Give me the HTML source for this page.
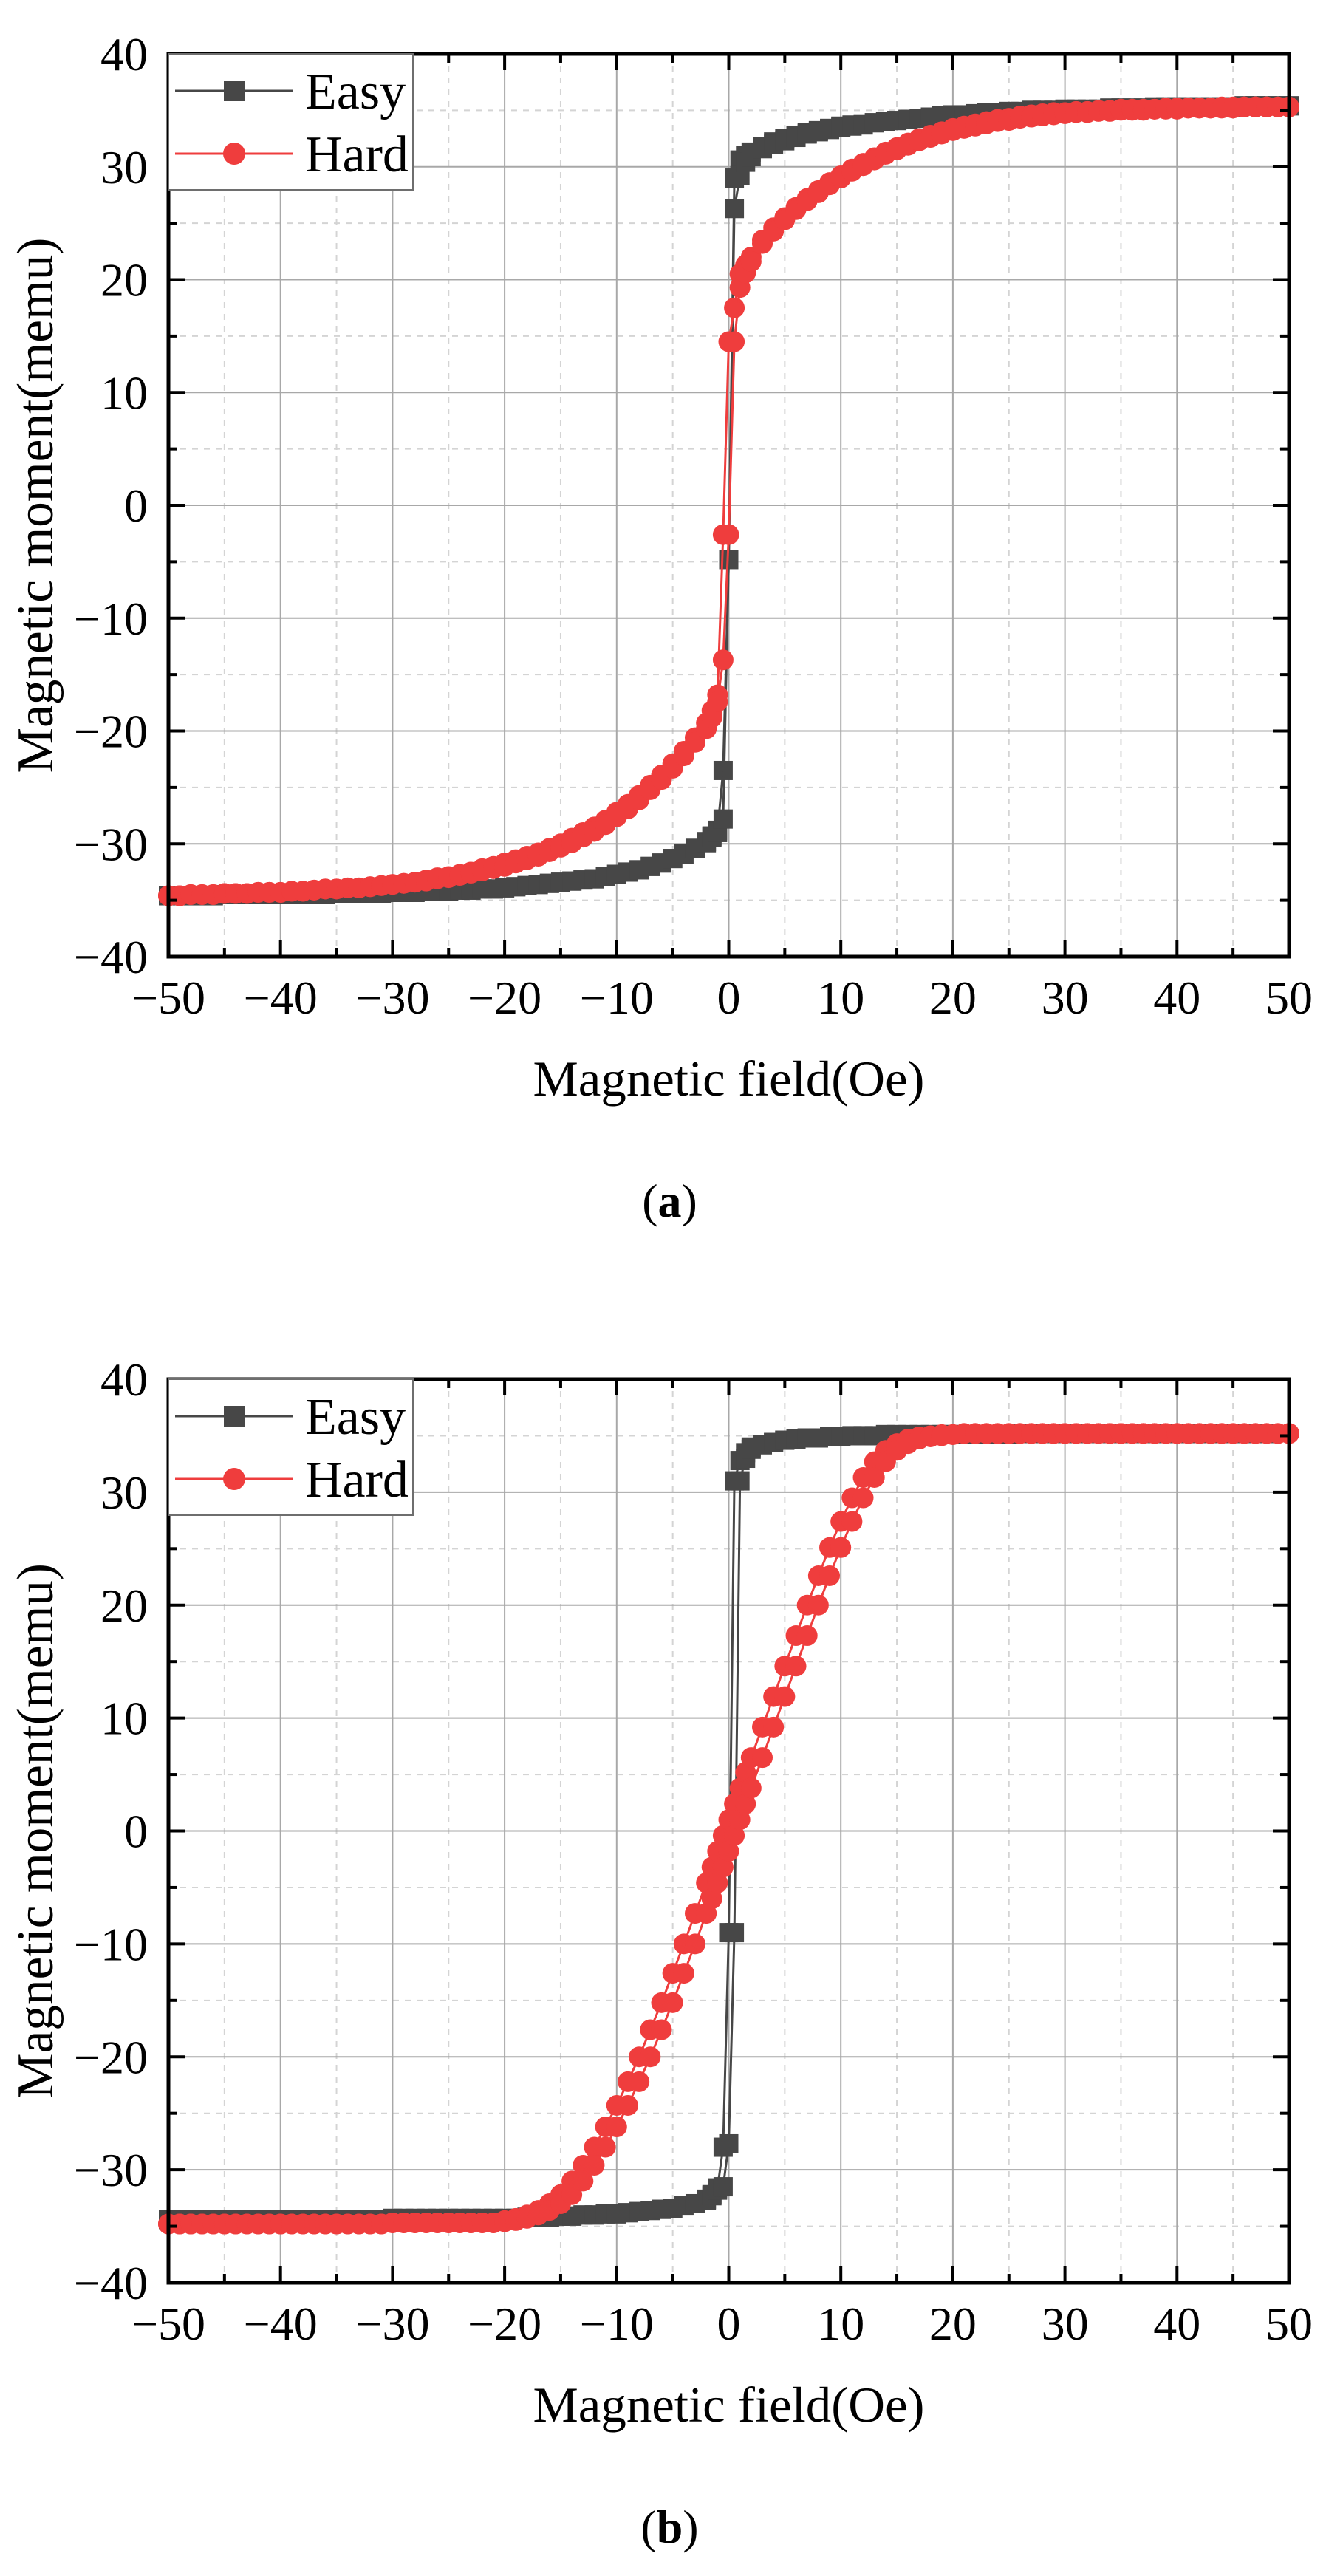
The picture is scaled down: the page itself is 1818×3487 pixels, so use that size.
<!DOCTYPE html>
<html><head><meta charset="utf-8">
<style>
html,body{margin:0;padding:0;background:#fff;}
svg{display:block;}
text{font-family:"Liberation Serif","Times New Roman",serif;fill:#000;}
</style></head>
<body>
<svg id="fig" width="1818" height="3487" viewBox="0 0 1818 3487" xmlns="http://www.w3.org/2000/svg"></svg>
<script>
// shared field values (Oe)
const fieldA = [-50,-49,-48,-47,-46,-45,-44,-43,-42,-41,-40,-39,-38,-37,-36,-35,-34,-33,-32,-31,-30,-29,-28,-27,-26,-25,-24,-23,-22,-21,-20,-19,-18,-17,-16,-15,-14,-13,-12,-11,-10,-9,-8,-7,-6,-5,-4,-3,-2,-1.5,-1,-0.5,0,0.5,1,1.5,2,3,4,5,6,7,8,9,10,11,12,13,14,15,16,17,18,19,20,21,22,23,24,25,26,27,28,29,30,31,32,33,34,35,36,37,38,39,40,41,42,43,44,45,46,47,48,49,50];
const fieldB = fieldA.slice();
const xTicks = [-50,-40,-30,-20,-10,0,10,20,30,40,50];
const yTicks = [-40,-30,-20,-10,0,10,20,30,40];
const xTickLabels = ["−50","−40","−30","−20","−10","0","10","20","30","40","50"];
const yTickLabels = ["−40","−30","−20","−10","0","10","20","30","40"];

// panel (a) easy axis
const easyA_down = [-34.6,-34.6,-34.6,-34.6,-34.6,-34.5,-34.5,-34.5,-34.5,-34.5,-34.5,-34.5,-34.5,-34.5,-34.5,-34.4,-34.4,-34.4,-34.4,-34.4,-34.3,-34.3,-34.3,-34.2,-34.2,-34.2,-34.1,-34.1,-34.0,-34.0,-33.9,-33.8,-33.7,-33.6,-33.5,-33.4,-33.3,-33.2,-33.1,-32.9,-32.7,-32.5,-32.3,-32.0,-31.7,-31.3,-30.9,-30.4,
 -29.8,-29.3,-28.8,-23.5,-4.8,29.0,30.6,31.0,31.3,
 31.8,32.2,32.5,32.8,33.0,33.2,33.4,33.6,33.7,33.8,33.9,34.0,34.1,34.2,34.3,34.4,34.5,34.6,34.6,34.7,34.8,34.8,34.9,34.9,35.0,35.0,35.0,35.1,35.1,35.1,35.1,35.2,35.2,35.2,35.2,35.3,35.3,35.3,35.3,35.3,35.3,35.3,35.3,35.4,35.4,35.4,35.4,35.4];
const easyA_up = [-34.6,-34.6,-34.6,-34.6,-34.6,-34.5,-34.5,-34.5,-34.5,-34.5,-34.5,-34.5,-34.5,-34.5,-34.5,-34.4,-34.4,-34.4,-34.4,-34.4,-34.3,-34.3,-34.3,-34.2,-34.2,-34.2,-34.1,-34.1,-34.0,-34.0,-33.9,-33.8,-33.7,-33.6,-33.5,-33.4,-33.3,-33.2,-33.1,-32.9,-32.7,-32.5,-32.3,-32.0,-31.7,-31.3,-30.9,-30.4,
 -29.9,-29.4,-29.0,-27.8,-4.8,26.3,29.2,30.4,30.9,
 31.6,32.0,32.3,32.6,32.9,33.1,33.3,33.5,33.6,33.7,33.9,34.0,34.1,34.2,34.3,34.4,34.5,34.6,34.6,34.7,34.8,34.8,34.9,34.9,35.0,35.0,35.0,35.1,35.1,35.1,35.1,35.2,35.2,35.2,35.2,35.3,35.3,35.3,35.3,35.3,35.3,35.3,35.3,35.4,35.4,35.4,35.4,35.4];
// panel (a) hard axis
const hardA_down = [-34.6,-34.6,-34.5,-34.5,-34.5,-34.4,-34.4,-34.4,-34.3,-34.3,-34.3,-34.2,-34.2,-34.1,-34.0,-34.0,-33.9,-33.9,-33.8,-33.7,-33.6,-33.5,-33.4,-33.2,-33.0,-32.9,-32.7,-32.5,-32.2,-32.0,-31.7,-31.4,-31.1,-30.8,-30.4,-30.0,-29.5,-29.0,-28.5,-27.9,-27.2,-26.5,-25.7,-24.8,-23.9,-22.9,-21.8,-20.6,
 -19.3,-18.2,-16.8,-2.6,14.5,17.5,20.5,21.3,22.0,
 23.5,24.6,25.5,26.4,27.2,27.9,28.6,29.2,29.8,30.3,30.8,31.3,31.7,32.1,32.5,32.8,33.1,33.4,33.6,33.8,34.0,34.2,34.3,34.5,34.6,34.7,34.8,34.8,34.9,34.9,35.0,35.0,35.1,35.1,35.1,35.1,35.2,35.2,35.2,35.2,35.2,35.3,35.3,35.3,35.3,35.3];
const hardA_up = [-34.6,-34.6,-34.5,-34.5,-34.5,-34.4,-34.4,-34.4,-34.3,-34.3,-34.3,-34.2,-34.2,-34.1,-34.0,-34.0,-33.9,-33.9,-33.8,-33.7,-33.6,-33.5,-33.4,-33.3,-33.1,-33.0,-32.8,-32.6,-32.4,-32.2,-32.0,-31.7,-31.4,-31.1,-30.7,-30.3,-29.9,-29.4,-28.9,-28.3,-27.6,-26.9,-26.1,-25.2,-24.3,-23.3,-22.2,-21.0,
 -19.8,-18.8,-17.4,-13.7,-2.6,14.5,19.3,20.6,21.6,
 23.2,24.3,25.3,26.2,27.0,27.7,28.4,29.0,29.6,30.1,30.6,31.1,31.5,31.9,32.3,32.6,32.9,33.2,33.4,33.6,33.8,34.0,34.1,34.3,34.4,34.5,34.6,34.7,34.8,34.8,34.9,34.9,35.0,35.0,35.0,35.1,35.1,35.1,35.2,35.2,35.2,35.2,35.2,35.3,35.3,35.3,35.3,35.3];
// panel (b) easy axis
const easyB_down = [-34.4,-34.4,-34.4,-34.4,-34.4,-34.4,-34.4,-34.4,-34.4,-34.4,-34.4,-34.4,-34.4,-34.4,-34.4,-34.4,-34.4,-34.4,-34.4,-34.4,-34.3,-34.3,-34.3,-34.3,-34.3,-34.3,-34.3,-34.3,-34.3,-34.3,-34.3,-34.3,-34.2,-34.2,-34.2,-34.1,-34.1,-34.0,-34.0,-33.9,-33.9,-33.8,-33.7,-33.6,-33.5,-33.4,-33.2,-33.0,
 -32.6,-32.2,-31.6,-28.0,-9.0,31.0,32.8,33.5,34.0,
 34.2,34.4,34.6,34.7,34.8,34.8,34.9,34.9,35.0,35.0,35.0,35.1,35.1,35.1,35.1,35.1,35.1,35.1,35.1,35.1,35.1,35.1,35.1,35.2,35.2,35.2,35.2,35.2,35.2,35.2,35.2,35.2,35.2,35.2,35.2,35.2,35.2,35.2,35.2,35.2,35.2,35.2,35.2,35.2,35.2,35.2];
const easyB_up = [-34.4,-34.4,-34.4,-34.4,-34.4,-34.4,-34.4,-34.4,-34.4,-34.4,-34.4,-34.4,-34.4,-34.4,-34.4,-34.4,-34.4,-34.4,-34.4,-34.4,-34.3,-34.3,-34.3,-34.3,-34.3,-34.3,-34.3,-34.3,-34.3,-34.3,-34.3,-34.3,-34.2,-34.2,-34.2,-34.1,-34.1,-34.0,-34.0,-33.9,-33.9,-33.8,-33.7,-33.6,-33.5,-33.4,-33.2,-33.0,
 -32.7,-32.3,-31.8,-31.5,-27.7,-9.0,31.0,33.0,33.8,
 34.2,34.4,34.6,34.7,34.8,34.8,34.9,34.9,35.0,35.0,35.0,35.1,35.1,35.1,35.1,35.1,35.1,35.1,35.1,35.1,35.1,35.1,35.1,35.2,35.2,35.2,35.2,35.2,35.2,35.2,35.2,35.2,35.2,35.2,35.2,35.2,35.2,35.2,35.2,35.2,35.2,35.2,35.2,35.2,35.2,35.2];
// panel (b) hard axis
const hardB_down = [-34.8,-34.8,-34.8,-34.8,-34.8,-34.8,-34.8,-34.8,-34.8,-34.8,-34.8,-34.8,-34.8,-34.8,-34.8,-34.8,-34.8,-34.8,-34.8,-34.8,-34.7,-34.7,-34.7,-34.7,-34.7,-34.7,-34.7,-34.7,-34.7,-34.7,-34.5,-34.3,-34.0,-33.6,-33.0,-32.2,-31.0,-29.6,-28.0,-26.2,-24.3,-22.2,-20.0,-17.6,-15.2,-12.6,-10.0,-7.3,
 -4.6,-3.2,-1.8,-0.4,1.0,2.4,3.8,5.2,6.5,
 9.2,11.9,14.6,17.3,20.0,22.6,25.1,27.4,29.5,31.3,32.7,33.7,34.3,34.7,34.9,35.0,35.1,35.1,35.2,35.2,35.2,35.2,35.2,35.2,35.2,35.2,35.2,35.2,35.2,35.2,35.2,35.2,35.2,35.2,35.2,35.2,35.2,35.2,35.2,35.2,35.2,35.2,35.2,35.2,35.2,35.2,35.2,35.2];
const hardB_up = [-34.8,-34.8,-34.8,-34.8,-34.8,-34.8,-34.8,-34.8,-34.8,-34.8,-34.8,-34.8,-34.8,-34.8,-34.8,-34.8,-34.8,-34.8,-34.8,-34.8,-34.7,-34.7,-34.7,-34.7,-34.7,-34.7,-34.7,-34.7,-34.7,-34.7,-34.6,-34.5,-34.3,-34.0,-33.6,-33.0,-32.2,-31.0,-29.6,-28.0,-26.2,-24.3,-22.2,-20.0,-17.6,-15.2,-12.6,-10.0,
 -7.3,-6.0,-4.6,-3.2,-1.8,-0.4,1.0,2.4,3.8,
 6.5,9.2,11.9,14.6,17.3,20.0,22.6,25.1,27.4,29.5,31.3,32.7,33.7,34.3,34.7,34.9,35.0,35.1,35.2,35.2,35.2,35.2,35.2,35.2,35.2,35.2,35.2,35.2,35.2,35.2,35.2,35.2,35.2,35.2,35.2,35.2,35.2,35.2,35.2,35.2,35.2,35.2,35.2,35.2,35.2,35.2,35.2,35.2];

const NS = "http://www.w3.org/2000/svg";
const svg = document.getElementById('fig');
function mk(tag, attrs, parent){
  const e = document.createElementNS(NS, tag);
  for (const k in attrs) e.setAttribute(k, attrs[k]);
  (parent||svg).appendChild(e);
  return e;
}
const EASY = "#474747", HARD = "#ef3d3d";

function panel(P){
  const L=228, R=1745, T=P.top, B=P.bottom;
  const g = mk('g', {});
  
  
  const sx = v => L + (v+50)/100*(R-L);
  const sy = v => B - (v+40)/80*(B-T);
  for (let v=-45; v<50; v+=10){
    const l = mk('line',{x1:sx(v),x2:sx(v),y1:T,y2:B,stroke:"#d4d4d4","stroke-width":2,"stroke-dasharray":"8,8"},g);
    
    
  }
  for (let v=-35; v<40; v+=10){
    const l = mk('line',{x1:L,x2:R,y1:sy(v),y2:sy(v),stroke:"#d4d4d4","stroke-width":2,"stroke-dasharray":"8,8"},g);
    
    
  }
  xTicks.forEach(v=>{
    const l = mk('line',{x1:sx(v),x2:sx(v),y1:T,y2:B,stroke:"#a8a8a8","stroke-width":2},g);
    
    
  });
  yTicks.forEach(v=>{
    const l = mk('line',{x1:L,x2:R,y1:sy(v),y2:sy(v),stroke:"#a8a8a8","stroke-width":2},g);
    
    
  });
  function series(xs, ys, color, shape, nm){
    const sg = mk('g',{},g);
    
    
    const pts = [];
    xs.forEach((x,i)=>{ if (typeof ys[i]==='number' && typeof x==='number') pts.push([x,ys[i]]); });
    const d = pts.map((p,i)=>(i?'L':'M')+sx(p[0]).toFixed(1)+','+sy(p[1]).toFixed(1)).join(' ');
    const p = mk('path',{d:d,fill:"none",stroke:color,"stroke-width":3},sg);
    
    
    pts.forEach(([x,y])=>{
      let m;
      if (shape==='sq') m = mk('rect',{x:sx(x)-13,y:sy(y)-13,width:26,height:26,fill:color},sg);
      else m = mk('circle',{cx:sx(x),cy:sy(y),r:14,fill:color},sg);
      
      
    });
  }
  series(P.fx, P.easyDown, EASY, 'sq', 'easy-descending');
  series(P.fx, P.easyUp, EASY, 'sq', 'easy-ascending');
  series(P.fx, P.hardDown, HARD, 'ci', 'hard-descending');
  series(P.fx, P.hardUp, HARD, 'ci', 'hard-ascending');
  for (let v=-50; v<=50; v+=5){
    const len = (v%10===0)?22:12;
    [[B,B-len],[T,T+len]].forEach(([a,b])=>{
      const t = mk('line',{x1:sx(v),x2:sx(v),y1:a,y2:b,stroke:"#000","stroke-width":4},g);
      
      
    });
  }
  for (let v=-40; v<=40; v+=5){
    const len = (v%10===0)?22:12;
    [[L,L+len],[R,R-len]].forEach(([a,b])=>{
      const t = mk('line',{x1:a,x2:b,y1:sy(v),y2:sy(v),stroke:"#000","stroke-width":4},g);
      
      
    });
  }
  const fr = mk('rect',{x:L,y:T,width:R-L,height:B-T,fill:"none",stroke:"#000","stroke-width":5},g);
  
  
  xTicks.forEach((v,i)=>{
    const t = mk('text',{x:sx(v),y:B+77,"font-size":64,"text-anchor":"middle"},g);
    t.textContent = xTickLabels[i];
    
    
  });
  yTicks.forEach((v,i)=>{
    const t = mk('text',{x:200,y:sy(v)+22,"font-size":64,"text-anchor":"end"},g);
    t.textContent = yTickLabels[i];
    
    
  });
  const xt = mk('text',{x:(L+R)/2,y:B+188,"font-size":68,"text-anchor":"middle",textLength:530,lengthAdjust:"spacingAndGlyphs"},g);
  xt.textContent = "Magnetic field(Oe)";
  
  
  const cy = (T+B)/2;
  const yt = mk('text',{x:0,y:0,"font-size":70,"text-anchor":"middle",textLength:725,lengthAdjust:"spacingAndGlyphs",transform:`translate(71,${cy}) rotate(-90)`},g);
  yt.textContent = "Magnetic moment(memu)";
  
  
  const lg = mk('g',{},g);
  
  
  const lb = mk('rect',{x:L,y:T,width:331,height:184,fill:"#fff",stroke:"#6e6e6e","stroke-width":2},lg);
  
  
  [[EASY,'sq','Easy',50],[HARD,'ci','Hard',135]].forEach(([c,s,lab,dy])=>{
    const e = mk('g',{},lg);
    
    
    mk('line',{x1:237,x2:397,y1:T+dy,y2:T+dy,stroke:c,"stroke-width":3},e);
    if (s==='sq') mk('rect',{x:303,y:T+dy-14,width:28,height:28,fill:c},e);
    else mk('circle',{cx:317,cy:T+dy,r:15,fill:c},e);
    const t = mk('text',{x:413,y:T+dy+24,"font-size":70},e);
    t.textContent = lab;
  });
  const cap = mk('text',{x:(L+R)/2-80,y:B+352,"font-size":64,"text-anchor":"middle"},g);
  
  
  cap.innerHTML = '(<tspan font-weight="bold">'+P.label+'</tspan>)';
}

panel({name:'panel-a', top:73, bottom:1295, label:'a', fx:fieldA,
  easyDown:easyA_down, easyUp:easyA_up, hardDown:hardA_down, hardUp:hardA_up});
panel({name:'panel-b', top:1867, bottom:3090, label:'b', fx:fieldB,
  easyDown:easyB_down, easyUp:easyB_up, hardDown:hardB_down, hardUp:hardB_up});
</script>
</body></html>
